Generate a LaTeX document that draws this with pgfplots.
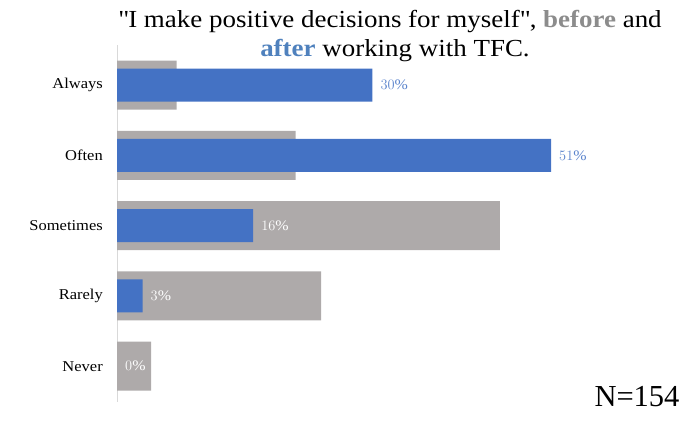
\documentclass[border=0pt]{standalone}
\usepackage{pgfplots}
\pgfplotsset{compat=1.18}
\usepackage{fontspec}
\setmainfont[FakeStretch=1.1]{Liberation Serif}
\newfontfamily\nfont{Liberation Serif}
\definecolor{barblue}{HTML}{4472C4}
\definecolor{bargrey}{HTML}{AEAAAA}
\definecolor{lblblue}{HTML}{5B84CC}
\definecolor{titlegrey}{HTML}{8C8C8C}
\definecolor{titleblue}{HTML}{4F81BD}
\definecolor{axgrey}{HTML}{D9D9D9}
\begin{document}
\begin{tikzpicture}[x=1pt,y=1pt]
\path[use as bounding box] (0,0) rectangle (687,422);
\begin{axis}[
  at={(117pt,20pt)}, anchor=south west,
  scale only axis, width=510.6pt, height=356.9pt,
  xmin=0, xmax=60, ymin=-0.51, ymax=4.57,
  xbar, bar shift=0pt,
  axis x line=none,
  axis y line*=left,
  y axis line style={draw=axgrey, line width=1pt},
  ytick={0,1,2,3,4},
  yticklabels={Never,Rarely,Sometimes,Often,Always},
  major tick length=0pt,
  yticklabel style={font=\fontsize{15}{18}\selectfont, text=black, inner sep=0pt, xshift=-14pt},
  nodes near coords={\pgfmathprintnumber{\pgfplotspointmeta}\%},
  nodes near coords align={horizontal},
  every node near coord/.append style={font=\fontsize{14.5}{16}\selectfont, inner sep=0pt, xshift=8pt},
  clip=false,
]
% before (grey, wide)
\addplot[fill=bargrey, draw=none, bar width=49pt, nodes near coords={}] coordinates {
  (7,4) (21,3) (45,2) (24,1) (4,0)};
% after (blue, narrow)
\addplot[fill=barblue, draw=none, bar width=33pt, nodes near coords={}] coordinates {
  (30,4) (51,3) (16,2) (3,1)};
% labels outside grey bars (blue text)
\addplot[draw=none, fill=none, bar width=33pt, every node near coord/.append style={text=lblblue}] coordinates {
  (30,4) (51,3)};
% labels over grey bars (white text)
\addplot[draw=none, fill=none, bar width=33pt, every node near coord/.append style={text=white}] coordinates {
  (16,2) (3,1) (0,0)};
\end{axis}
\node[anchor=base, font=\fontsize{24.5}{28}\selectfont] at (390,394)
  {\textquotedbl I make positive decisions for myself\textquotedbl, \textcolor{titlegrey}{\textbf{before}} and};
\node[anchor=base, font=\fontsize{24.5}{28}\selectfont] at (395,365)
  {\textcolor{titleblue}{\textbf{after}} working with TFC.};
\node[anchor=base east, font=\nfont\fontsize{30.5}{34}\selectfont] at (683,15) {N=154};
\end{tikzpicture}
\end{document}
